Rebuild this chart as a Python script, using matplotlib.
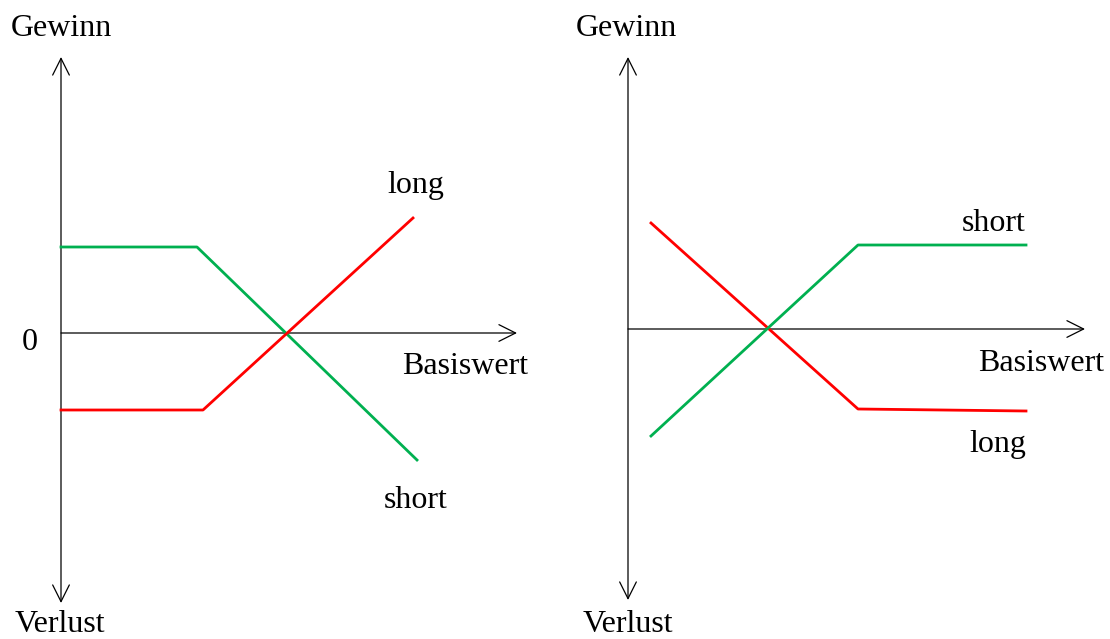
import matplotlib
matplotlib.use("Agg")
import matplotlib.pyplot as plt
from matplotlib.patches import FancyArrowPatch

plt.rcParams['font.family'] = ['Liberation Serif', 'DejaVu Serif']

GREEN = '#00b050'
RED = '#ff0000'

# left panel: payoff in units of 100 px, origin where the axes cross
left_green_x = [0.0, 1.36, 3.56]
left_green_y = [0.86, 0.86, -1.27]
left_red_x = [0.0, 1.42, 3.52]
left_red_y = [-0.77, -0.77, 1.15]

# right panel
right_red_x = [0.23, 2.30, 3.98]
right_red_y = [1.06, -0.80, -0.82]
right_green_x = [0.23, 2.30, 3.98]
right_green_y = [-1.07, 0.84, 0.84]

W, H = 1110, 639
fig = plt.figure(figsize=(W / 100, H / 100), dpi=100)


def make_axes(ox, oy):
    # axes covering whole figure, data origin at pixel (ox, oy)
    ax = fig.add_axes([0, 0, 1, 1])
    ax.set_xlim(-ox / 100, (W - ox) / 100)
    ax.set_ylim(-(H - oy) / 100, oy / 100)
    ax.axis('off')
    ax.patch.set_alpha(0)
    return ax


def arrow(ax, p0, p1, style):
    a = FancyArrowPatch(p0, p1, arrowstyle=style + ',head_length=0.6,head_width=0.3',
                        mutation_scale=20, lw=0.9, color='black',
                        shrinkA=0, shrinkB=0)
    ax.add_patch(a)


def label(ax, x, y, s):
    ax.text(x, y - 0.03, s, ha='center', va='center', fontsize=23, color='black')


# left panel
ax1 = make_axes(61, 333)
arrow(ax1, (0, -2.70), (0, 2.76), '<->')
arrow(ax1, (0, 0), (4.56, 0), '->')
ax1.plot(left_green_x, left_green_y, color=GREEN, lw=2)
ax1.plot(left_red_x, left_red_y, color=RED, lw=2)
label(ax1, 0.0, 3.08, 'Gewinn')
label(ax1, -0.01, -2.89, 'Verlust')
label(ax1, -0.31, -0.07, '0')
label(ax1, 4.04, -0.30, 'Basiswert')
label(ax1, 3.55, 1.51, 'long')
label(ax1, 3.55, -1.64, 'short')

# right panel
ax2 = make_axes(628, 329)
arrow(ax2, (0, -2.71), (0, 2.72), '<->')
arrow(ax2, (0, 0), (4.57, 0), '->')
ax2.plot(right_red_x, right_red_y, color=RED, lw=2)
ax2.plot(right_green_x, right_green_y, color=GREEN, lw=2)
label(ax2, -0.02, 3.04, 'Gewinn')
label(ax2, 0.0, -2.93, 'Verlust')
label(ax2, 3.66, 1.09, 'short')
label(ax2, 4.13, -0.31, 'Basiswert')
label(ax2, 3.70, -1.12, 'long')

fig.savefig('out.png', dpi=100)
